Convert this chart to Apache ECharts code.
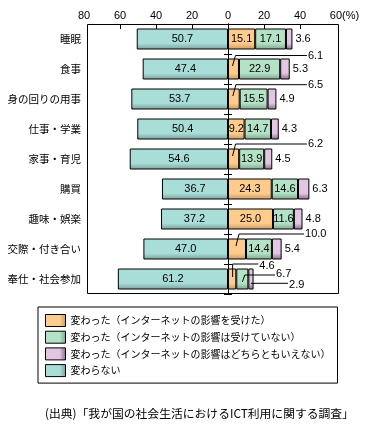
<!DOCTYPE html>
<html><head><meta charset="utf-8">
<script src="https://cdn.jsdelivr.net/npm/echarts@6/dist/echarts.min.js"></script>
<style>html,body{margin:0;padding:0;background:#fff}#c{width:376px;height:427px}</style>
</head><body><div id="c"></div>
<script>
// ---- data ----
const categories = ['睡眠','食事','身の回りの用事','仕事・学業','家事・育児','購買','趣味・娯楽','交際・付き合い','奉仕・社会参加'];
const noChange        = [50.7,47.4,53.7,50.4,54.6,36.7,37.2,47.0,61.2];
const changedByNet    = [15.1, 6.1, 6.5, 9.2, 6.2,24.3,25.0,10.0, 4.6];
const changedNotByNet = [17.1,22.9,15.5,14.7,13.9,14.6,11.6,14.4, 6.7];
const changedUnsure   = [ 3.6, 5.3, 4.9, 4.3, 4.5, 6.3, 4.8, 5.4, 2.9];
const tickLabelValues = [-80,-60,-40,-20,0,20,40,60];
const tickMarkValues  = [-60,-40,-20,0,20,40];
const seriesNames = {
  net: '変わった（インターネットの影響を受けた）',
  notNet: '変わった（インターネットの影響は受けていない）',
  unsure: '変わった（インターネットの影響はどちらともいえない）',
  none: '変わらない'
};
const sourceText = '(出典)「我が国の社会生活におけるICT利用に関する調査」';

// values labelled outside the bar with a leader line
const outsideLabels = [
  {cat:1, key:'net'}, {cat:2, key:'net'}, {cat:4, key:'net'}, {cat:7, key:'net'},
  {cat:8, key:'net'}, {cat:8, key:'notNet'}, {cat:8, key:'unsure'}
];
// ---- leader layout (style) ----
const leaderLayout = [
  {path:'slash', lineDy:-13.5, labelX:44.4, labelDy:-13.3},
  {path:'slash', lineDy:-14.3, labelX:44.4, labelDy:-14.3},
  {path:'slash', lineDy:-15,   labelX:44.4, labelDy:-15},
  {path:'slash', lineDy:-15,   labelX:42.8, labelDy:-15},
  {path:'vert',  lineDy:-15,   labelX:17.4, labelDy:-13},
  {path:'slash2',lineDy:-4,    labelX:26.7, labelDy:-5},
  {path:'flat',  lineDy:4.3,   labelX:33.9, labelDy:6}
];

const valuesOf = {net: changedByNet, notNet: changedNotByNet, unsure: changedUnsure};
const isOutside = (key, i) => outsideLabels.some(o => o.key === key && o.cat === i);

const FONT_JP = '"Noto Sans CJK JP", "Noto Sans", sans-serif';
const FONT_NUM = '"Liberation Sans", Arial, sans-serif';

function vgrad(c, d){ return {type:'linear',x:0,y:0,x2:0,y2:1,colorStops:[{offset:0,color:c},{offset:0.7,color:c},{offset:1,color:d}]}; }
function hgrad(c, d){ return {type:'linear',x:0,y:0,x2:1,y2:0,colorStops:[{offset:0,color:c},{offset:0.7,color:c},{offset:1,color:d}]}; }
const COL = {
  none:   ['#A9DED8','#7C9F9B'],
  net:    ['#FFCC8E','#C99A63'],
  notNet: ['#B3E2C6','#7FA58E'],
  unsure: ['#E2C6E2','#8C6A8C']
};

const fmt = v => Math.abs(v).toFixed(1);
const labelBase = {fontSize:11, fontFamily:FONT_NUM, color:'#000'};

function barSeries(key, data, labelPos, dist){
  return {
    name: seriesNames[key], type:'bar', stack:'all', barWidth:21,
    itemStyle:{color: vgrad(COL[key][0], COL[key][1]), borderColor:'#000', borderWidth:1},
    label: Object.assign({show:true, position:labelPos, distance:dist||0, formatter: p => fmt(p.value)}, labelBase),
    data: data.map((v,i) => ({value:v, label:{show: !isOutside(key,i)}})),
    z:2
  };
}

const leaderData = outsideLabels.map((o, i) => {
  let start = 0;
  if (o.key === 'notNet') start = changedByNet[o.cat];
  if (o.key === 'unsure') start = changedByNet[o.cat] + changedNotByNet[o.cat];
  return [start + valuesOf[o.key][o.cat] / 2, o.cat, i];
});

function renderLeader(params, api){
  const idx = api.value(2);
  const o = outsideLabels[idx], L = leaderLayout[idx];
  const p = api.coord([api.value(0), o.cat]);
  const cx = p[0], cy = p[1];
  const lx = api.coord([L.labelX, o.cat])[0];
  let pts;
  if (L.path === 'slash') pts = [[cx-1, cy-3],[cx+2, cy+L.lineDy],[lx-1, cy+L.lineDy]];
  else if (L.path === 'vert') pts = [[cx+0.5, cy-2],[cx+0.5, cy+L.lineDy],[lx-1, cy+L.lineDy]];
  else if (L.path === 'slash2') pts = [[cx, cy+3],[cx+2.5, cy+L.lineDy],[lx-1, cy+L.lineDy]];
  else pts = [[cx, cy+L.lineDy],[lx-1, cy+L.lineDy]];
  return {type:'group', children:[
    {type:'polyline', shape:{points:pts}, style:{stroke:'#000', lineWidth:1, fill:null}},
    {type:'text', style:{x:lx, y:cy+L.labelDy, text: fmt(valuesOf[o.key][o.cat]), font: '11px ' + FONT_NUM, fill:'#000', align:'left', verticalAlign:'middle'}}
  ]};
}

const chart = echarts.init(document.getElementById('c'), null, {renderer:'canvas'});
chart.setOption({
  animation:false,
  backgroundColor:'#fff',
  title:{text: sourceText, left:40, top:403, textStyle:{fontSize:11.8, fontWeight:'normal', fontFamily:FONT_JP, color:'#000'}},
  grid:{left:84, top:24, width:255, height:270, show:false},
  graphic:[{type:'rect', shape:{x:87.5, y:24.5, width:251, height:269}, style:{stroke:'#000', lineWidth:1, fill:null}, z:10}],
  legend:{
    orient:'vertical', left:38, top:307, padding:[7,7,6,7], borderColor:'#000', borderWidth:1,
    itemWidth:20, itemHeight:12, itemGap:3.7, selectedMode:false, icon:'rect',
    textStyle:{fontSize:10, fontFamily:FONT_JP, color:'#000'},
    data: ['net','notNet','unsure','none'].map(k => ({name: seriesNames[k], itemStyle:{color: hgrad(COL[k][0], COL[k][1]), borderColor:'#000', borderWidth:1}}))
  },
  xAxis:{
    type:'value', position:'top', min:-80, max:61.67,
    axisLine:{show:false}, splitLine:{show:false},
    axisTick:{show:true, inside:true, length:5, customValues: tickMarkValues, lineStyle:{color:'#000'}},
    axisLabel:{customValues: tickLabelValues, margin:3, fontSize:11, fontFamily:FONT_NUM, color:'#000',
      formatter: v => v === 60 ? '{p|60(%)}' : String(Math.abs(v)),
      rich:{p:{fontSize:11, fontFamily:FONT_NUM, color:'#000', padding:[0,0,0,17]}}}
  },
  yAxis:[
    {type:'category', data:categories, inverse:true, position:'left',
     axisLine:{show:false, onZero:false}, axisTick:{show:false},
     axisLabel:{margin:3, fontSize:10.5, fontFamily:FONT_JP, color:'#000'}},
    {type:'category', data:categories, inverse:true, position:'left',
     axisLine:{show:true, onZero:true, onZeroAxisIndex:0, lineStyle:{color:'#000', width:1}},
     axisTick:{show:true, length:4, lineStyle:{color:'#000'}}, axisLabel:{show:false}, z:5},
    {type:'category', data:categories, inverse:true, position:'right',
     axisLine:{show:true, onZero:true, onZeroAxisIndex:0, lineStyle:{color:'#000', width:1}},
     axisTick:{show:true, length:4, lineStyle:{color:'#000'}}, axisLabel:{show:false}, z:5}
  ],
  series:[
    barSeries('none', noChange.map(v => -v), 'inside'),
    barSeries('net', changedByNet, 'inside'),
    barSeries('notNet', changedNotByNet, 'inside'),
    barSeries('unsure', changedUnsure, 'right', 3),
    {type:'custom', name:'leaders', renderItem: renderLeader, data: leaderData,
     encode:{x:0, y:1}, z:6, silent:true, clip:false}
  ]
});
</script></body></html>
